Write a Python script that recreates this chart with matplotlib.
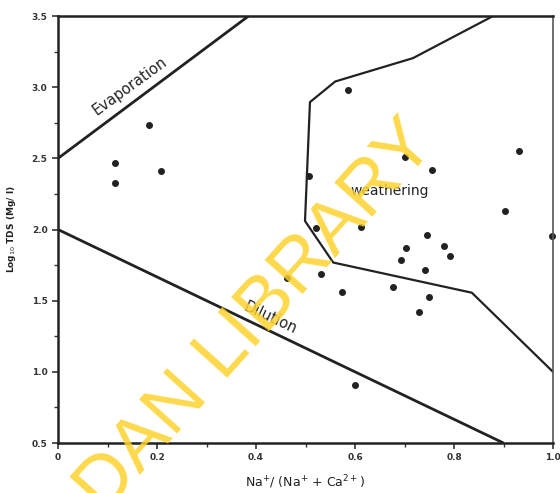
import matplotlib
matplotlib.use("Agg")
import matplotlib.pyplot as plt
from matplotlib.ticker import MultipleLocator

# sample points
na_ratio = [0.115, 0.115, 0.184, 0.208, 0.585, 0.932, 0.701, 0.756, 0.508,
            0.904, 0.997, 0.521, 0.613, 0.746, 0.704, 0.780, 0.792, 0.692,
            0.741, 0.531, 0.462, 0.574, 0.677, 0.750, 0.730, 0.600]
log_tds = [2.467, 2.326, 2.732, 2.408, 2.979, 2.549, 2.509, 2.415, 2.373,
           2.129, 1.951, 2.009, 2.021, 1.958, 1.871, 1.882, 1.817, 1.787,
           1.716, 1.688, 1.660, 1.563, 1.599, 1.528, 1.418, 0.908]

# boundary lines
evap_x = [0.0, 0.385]
evap_y = [2.5, 3.5]
dil_x = [0.0, 0.90]
dil_y = [2.0, 0.5]
weath_x = [0.879, 0.717, 0.56, 0.509, 0.499, 0.556, 0.836, 1.0]
weath_y = [3.5, 3.204, 3.04, 2.895, 2.06, 1.768, 1.556, 1.0]

yticks = [0.5, 1.0, 1.5, 2.0, 2.5, 3.0, 3.5]
ytick_labels = ["0.5", "1.0", "1.5", "2.0", "2.5", "3.0", "3.5"]
xticks = [0, 0.2, 0.4, 0.6, 0.8, 1.0]
xtick_labels = ["0", "0.2", "0.4", "0.6", "0.8", "1.0"]

fig = plt.figure(figsize=(5.6, 4.93), dpi=100)
ax = fig.add_axes([0.1036, 0.1014, 0.8839, 0.8661])

ax.plot(evap_x, evap_y, color="#222222", lw=2.0, solid_capstyle="butt")
ax.plot(dil_x, dil_y, color="#222222", lw=2.0, solid_capstyle="butt")
ax.plot(weath_x, weath_y, color="#222222", lw=1.6)
ax.plot(na_ratio, log_tds, "o", color="#222222", ms=4, clip_on=False)

ax.set_xlim(0, 1.0)
ax.set_ylim(0.5, 3.5)
ax.set_xticks(xticks)
ax.set_xticklabels(xtick_labels)
ax.set_yticks(yticks)
ax.set_yticklabels(ytick_labels)
ax.xaxis.set_minor_locator(MultipleLocator(0.1))
ax.yaxis.set_minor_locator(MultipleLocator(0.25))
ax.tick_params(axis="both", which="major", labelsize=6.5, length=4, width=1.2,
               colors="#333333")
ax.tick_params(axis="both", which="minor", length=3, width=1.0, colors="#333333")
for lab in ax.get_xticklabels() + ax.get_yticklabels():
    lab.set_fontweight("bold")

for side in ["left", "bottom", "top"]:
    ax.spines[side].set_linewidth(1.8)
    ax.spines[side].set_color("#222222")
ax.spines["right"].set_linewidth(1.2)
ax.spines["right"].set_color("#555555")

ax.set_xlabel("Na$^{+}$/ (Na$^{+}$ + Ca$^{2+}$)", fontsize=9, color="#222222",
              labelpad=8)
ax.set_ylabel("Log$_{10}$ TDS (Mg/ l)", fontsize=6.5, fontweight="bold",
              color="#222222", labelpad=10)

ax.text(0.145, 3.01, "Evaporation", rotation=36, ha="center", va="center",
        fontsize=10.5, color="#222222")
ax.text(0.428, 1.38, "Dilution", rotation=-25, ha="center", va="center",
        fontsize=10.5, color="#222222")
ax.text(0.671, 2.27, "weathering", ha="center", va="center",
        fontsize=10, color="#222222")

# library watermark (cut off at the bottom edge, as in the scan)
fig.text(0.458, 0.358, "DAN LIBRARY", rotation=48, ha="center", va="center",
         fontsize=54, family="Liberation Sans", color="#fdd22e", alpha=0.85,
         zorder=10)

fig.savefig("out.png", dpi=100)
